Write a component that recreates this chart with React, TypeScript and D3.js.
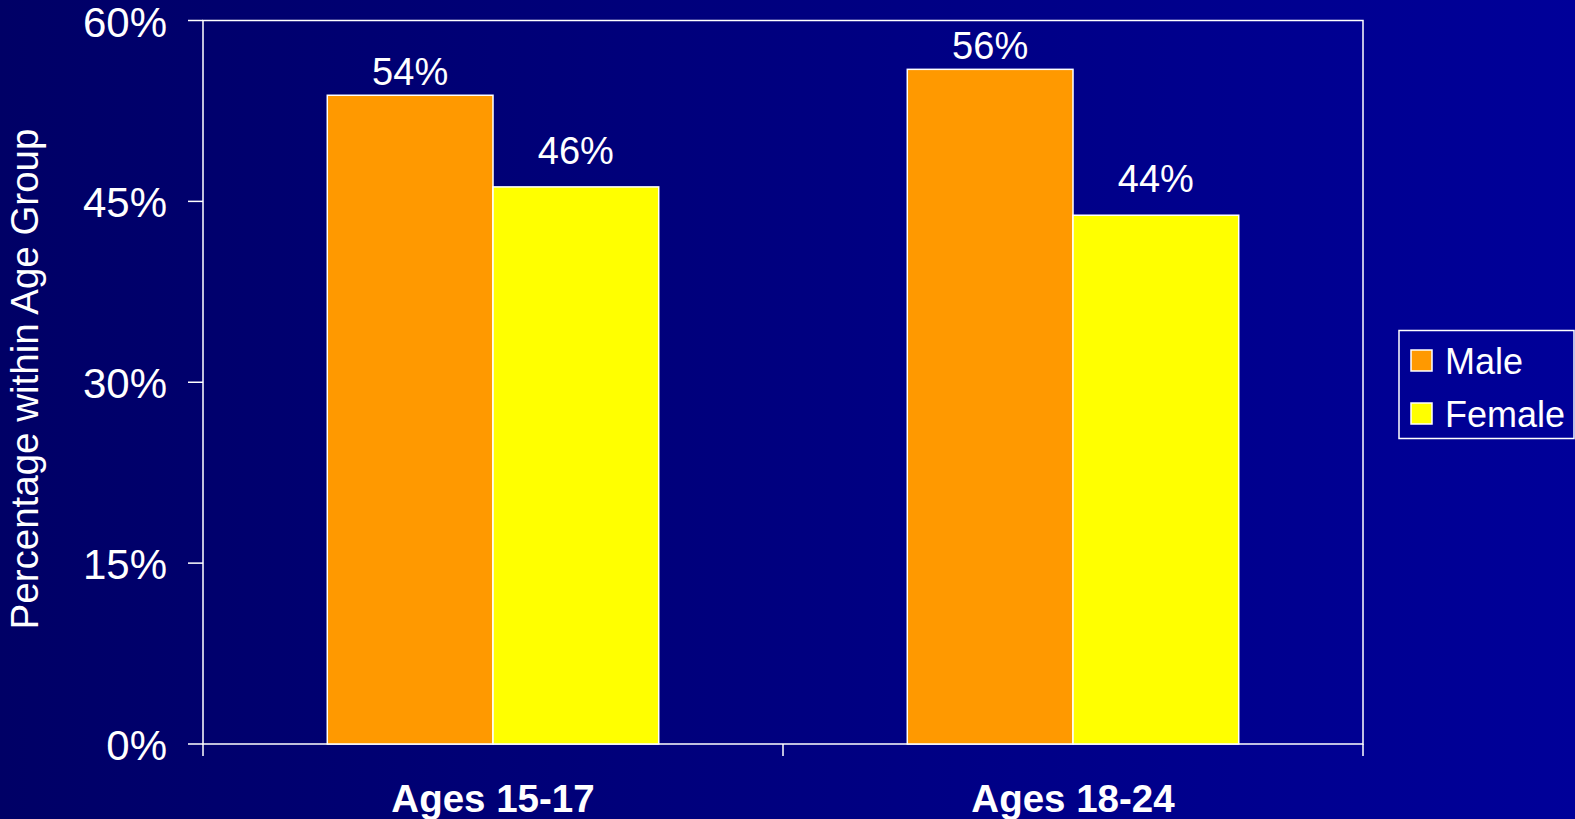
import React from "react";
import * as d3 from "d3";

const categories = ["Ages 15-17", "Ages 18-24"];
const seriesNames = ["Male", "Female"];
const maleValues = [53.8, 55.95];
const femaleValues = [46.2, 43.85];
const valueLabels = [["54%", "46%"], ["56%", "44%"]];
const yTicks = [0, 15, 30, 45, 60];
const seriesColors = ["#FF9900", "#FFFF00"];

const W = 1575;
const H = 819;
const plot = { left: 203, right: 1363, top: 20.5, bottom: 744 };
const FONT = "'Liberation Sans', Arial, sans-serif";
const labelGap = [10, 23];

export default function App() {
  const x0 = d3.scaleBand<string>().domain(categories).range([plot.left, plot.right]).paddingInner(0).paddingOuter(0);
  const x1 = d3.scaleBand<string>().domain(seriesNames).range([0, x0.bandwidth()]).paddingOuter(0.75).paddingInner(0);
  const y = d3.scaleLinear().domain([0, 60]).range([plot.bottom, plot.top]);
  const values = [maleValues, femaleValues];

  const catTicks = [plot.left, ...categories.map((c) => (x0(c) as number) + x0.bandwidth())];

  return (
    <svg width={W} height={H} style={{ position: "fixed", left: 0, top: 0 }} fontFamily={FONT}>
      <defs>
        <linearGradient id="bg" x1="0" y1="0" x2="1" y2="0">
          <stop offset="0" stopColor="#000066" />
          <stop offset="1" stopColor="#000099" />
        </linearGradient>
      </defs>
      <rect x={0} y={0} width={W} height={H} fill="url(#bg)" />
      {/* plot frame */}
      <rect x={plot.left} y={plot.top} width={plot.right - plot.left} height={plot.bottom - plot.top} fill="none" stroke="#fff" strokeWidth={1.5} />
      {/* bars */}
      {categories.map((c, i) =>
        seriesNames.map((s, j) => {
          const v = values[j][i];
          const bx = (x0(c) as number) + (x1(s) as number);
          return (
            <g key={c + s}>
              <rect x={bx} y={y(v)} width={x1.bandwidth()} height={plot.bottom - y(v)} fill={seriesColors[j]} stroke="#fff" strokeWidth={1.5} />
              <text x={bx + x1.bandwidth() / 2} y={y(v) - labelGap[j]} fill="#fff" fontSize={38} textAnchor="middle">
                {valueLabels[i][j]}
              </text>
            </g>
          );
        })
      )}
      {/* y axis ticks */}
      {yTicks.map((t) => (
        <g key={t}>
          <line x1={plot.left - 15} x2={plot.left} y1={y(t)} y2={y(t)} stroke="#fff" strokeWidth={1.5} />
          <text x={plot.left - 36} y={y(t) + 16} fill="#fff" fontSize={42} textAnchor="end">
            {t}%
          </text>
        </g>
      ))}
      {/* x axis ticks */}
      {catTicks.map((tx, i) => (
        <line key={i} x1={tx} x2={tx} y1={plot.bottom} y2={plot.bottom + 12} stroke="#fff" strokeWidth={1.5} />
      ))}
      {categories.map((c) => (
        <text key={c} x={(x0(c) as number) + x0.bandwidth() / 2} y={812} fill="#fff" fontSize={38.5} fontWeight="bold" textAnchor="middle">
          {c}
        </text>
      ))}
      {/* y title */}
      <text transform={`translate(38, 379) rotate(-90)`} fill="#fff" fontSize={38.5} textAnchor="middle">
        Percentage within Age Group
      </text>
      {/* legend */}
      <rect x={1399} y={330.5} width={175} height={108} fill="none" stroke="#fff" strokeWidth={1.5} />
      {seriesNames.map((s, j) => (
        <g key={s}>
          <rect x={1411} y={350 + j * 53} width={21} height={21} fill={seriesColors[j]} stroke="#fff" strokeWidth={1.5} />
          <text x={1445} y={374 + j * 53} fill="#fff" fontSize={36}>
            {s}
          </text>
        </g>
      ))}
    </svg>
  );
}
